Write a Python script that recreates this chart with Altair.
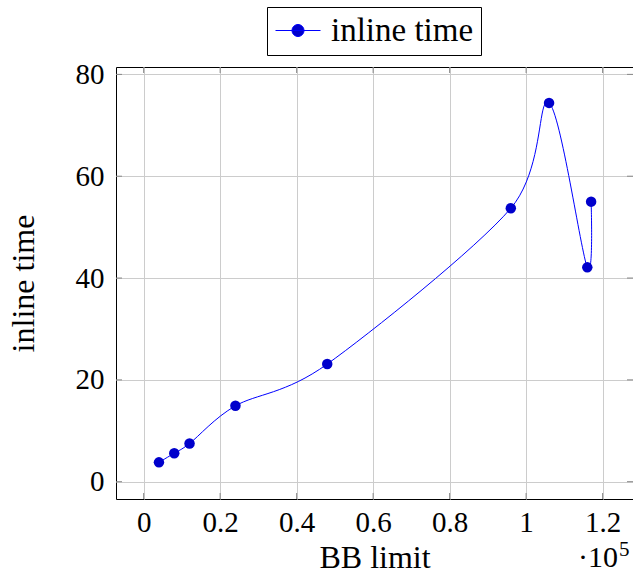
import altair as alt
import pandas as pd

# data
bb_limit = [4000, 8000, 12000, 24000, 48000, 96000, 106000, 116000, 117000]
inline_time = [3.8, 5.6, 7.5, 14.9, 23.1, 53.7, 74.4, 42.1, 55.0]
series_name = ["inline time"] * len(bb_limit)
x_ticks = [0, 20000, 40000, 60000, 80000, 100000, 120000]
y_ticks = [0, 20, 40, 60, 80]

FONT = "Liberation Serif"
W, H = 517, 432

df = pd.DataFrame({"x": bb_limit, "y": inline_time, "s": series_name})
xt = pd.DataFrame({"x": x_ticks})
yt = pd.DataFrame({"y": y_ticks})

xscale = alt.Scale(domain=[-7230, 127950], nice=False, zero=False)
yscale = alt.Scale(domain=[-3.4, 81.45], nice=False, zero=False)

xaxis = alt.Axis(values=x_ticks, labelExpr="'' + (datum.value / 100000)",
                 grid=True, ticks=False, domain=False, labelPadding=9,
                 title="BB limit", titleX=W / 2, titleY=68, titleBaseline="alphabetic",
                 titleAlign="center")
yaxis = alt.Axis(values=y_ticks, grid=True, ticks=False, domain=False, labelPadding=12,
                 title="inline time", titleAngle=-90, titleX=-83, titleY=H / 2,
                 titleBaseline="alphabetic", titleAlign="center")

X = alt.X("x:Q", scale=xscale, axis=xaxis, title="BB limit")
Y = alt.Y("y:Q", scale=yscale, axis=yaxis, title="inline time")

line = alt.Chart(df).mark_line(interpolate="cardinal", tension=0.09, color="#0000ff",
                               strokeWidth=1).encode(x=X, y=Y)

# legend glyph: line with a dot, drawn wider than its layout box
legend_path = ("M-1,0L2,0M0.1,0A0.4,0.4,0,1,1,0.9,0"
               "A0.4,0.4,0,1,1,0.1,0Z")

points = alt.Chart(df).mark_point(filled=True, shape="circle", size=110, opacity=1).encode(
    x=X, y=Y,
    color=alt.Color("s:N", scale=alt.Scale(domain=["inline time"], range=["#0000cc"]),
                    legend=alt.Legend(title=None, orient="none", legendX=151, legendY=-60,
                                      strokeColor="black", fillColor="white", padding=7,
                                      labelFont=FONT, labelFontSize=33, labelColor="black",
                                      labelOffset=24, symbolType=legend_path,
                                      symbolSize=900, symbolStrokeWidth=1,
                                      symbolStrokeColor="#0000ff", symbolOpacity=1,
                                      labelLimit=400)),
)

tick_color = "#888888"
xt_bottom = alt.Chart(xt).mark_rule(color=tick_color, strokeWidth=1).encode(
    x=X, y=alt.value(H - 6), y2=alt.value(H))
xt_top = alt.Chart(xt).mark_rule(color=tick_color, strokeWidth=1).encode(
    x=X, y=alt.value(0), y2=alt.value(6))
yt_left = alt.Chart(yt).mark_rule(color=tick_color, strokeWidth=1).encode(
    y=Y, x=alt.value(0), x2=alt.value(6))
yt_right = alt.Chart(yt).mark_rule(color=tick_color, strokeWidth=1).encode(
    y=Y, x=alt.value(W - 6), x2=alt.value(W))

exp_base = alt.Chart(pd.DataFrame({"t": ["·10"]})).mark_text(
    font=FONT, fontSize=30, align="right", baseline="alphabetic", color="black").encode(
    text="t:N", x=alt.value(502), y=alt.value(500))
exp_sup = alt.Chart(pd.DataFrame({"t": ["5"]})).mark_text(
    font=FONT, fontSize=21, align="left", baseline="alphabetic", color="black").encode(
    text="t:N", x=alt.value(503), y=alt.value(489))

chart = alt.layer(line, xt_bottom, xt_top, yt_left, yt_right, points, exp_base, exp_sup).properties(
    width=W, height=H,
    autosize=alt.AutoSizeParams(type="none"),
    padding={"left": 116, "top": 67, "right": 0, "bottom": 84},
    background="white",
).configure_view(stroke="black", strokeWidth=1).configure_axis(
    labelFont=FONT, labelFontSize=29, labelColor="black",
    titleFont=FONT, titleFontSize=32, titleFontWeight="normal", titleColor="black",
    gridColor="#cccccc", gridWidth=1, gridOpacity=1,
).configure_legend(labelFont=FONT, labelFontSize=33, labelColor="black")

chart.save("out.html", embed_options={"renderer": "svg", "actions": False})
